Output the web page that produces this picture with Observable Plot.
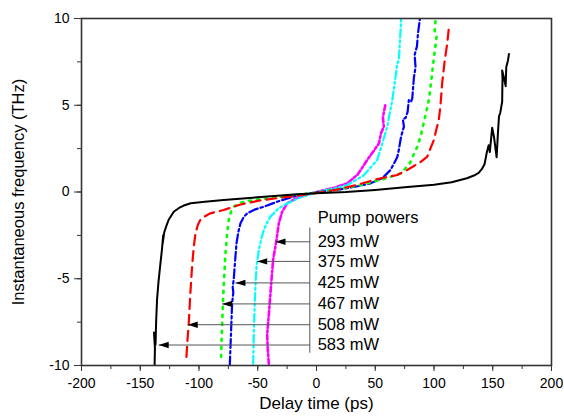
<!DOCTYPE html>
<html>
<head>
<meta charset="utf-8">
<script src="https://cdn.jsdelivr.net/npm/d3@7"></script>
<script src="https://cdn.jsdelivr.net/npm/@observablehq/plot@0.6"></script>
<style>
  html, body { margin: 0; padding: 0; background: #fff; }
  #chart svg { display: block; }
</style>
</head>
<body>
<div id="chart"></div>
<script>
// ---- data ----
const powers = ["293 mW", "375 mW", "425 mW", "467 mW", "508 mW", "583 mW"];

// delay (ps) / instantaneous frequency (THz) for each pump power
const t293 = [-40.6,-41.5,-42,-40.5,-39.2,-38,-36.9,-34.1,-32.1,-29.2,-25,-15,0,15,26.1,35,43.2,48,53.1,55,57.3,56.5,58.8];
const f293 = [-9.9,-9.0,-8.2,-7.0,-5.85,-4.8,-3.9,-2.8,-1.8,-1.14,-0.65,-0.3,0.0,0.25,0.5,1.0,1.85,2.3,2.8,3.4,3.77,4.3,5.1];

const t375 = [-53.9,-53.4,-52.8,-52,-51.1,-49.1,-47,-44.9,-42,-39.2,-33,-27.8,-15,0,15,26.1,40,51.7,56,60.2,62.5,64.5,67.3,68.7,70.1,71,72.1];
const f375 = [-9.9,-8.3,-6.8,-5.5,-4.3,-3.35,-2.7,-2.2,-1.75,-1.42,-1.0,-0.75,-0.35,0.0,0.2,0.4,0.95,1.85,2.8,3.77,4.6,5.3,6.65,7.4,7.6,8.7,10];

const t425 = [-73.8,-72.8,-71.8,-70.8,-71.3,-70.4,-69.3,-68.1,-66.5,-64.7,-62,-59,-52,-44.9,-33.5,-16.4,0,20,35,46,56,63,68.7,70,72,74.4,73.5,75.8,77.5,78.6,80.5,81.5,82.9,84.3,83.5,85.5,86.3,88];
const f425 = [-10,-8.2,-6.4,-5.8,-5.5,-5.0,-4.0,-2.96,-2.3,-1.8,-1.45,-1.23,-1.0,-0.85,-0.56,-0.2,-0.02,0.15,0.33,0.5,0.8,1.27,2.0,2.4,3.2,3.77,4.2,4.27,4.6,5.3,5.2,5.4,6.6,7.2,7.9,8.4,9.1,10];

const t467 = [-81.2,-80.5,-79.5,-78.5,-77.5,-76.2,-74.7,-72.5,-70.4,-65,-59,-50,-39,-20,0,20,37.5,55,71.5,79,85.7,88.6,92,95.6,97.5,99.3,101,102.2,100.5,101.3];
const f467 = [-9.5,-8.0,-6.2,-4.8,-3.54,-2.5,-1.6,-1.1,-0.85,-0.62,-0.52,-0.43,-0.35,-0.2,-0.04,0.18,0.4,0.7,1.07,1.6,2.6,3.2,4.2,5.3,6.3,7.4,8.3,8.96,9.3,9.9];

const t508 = [-110.7,-110,-108.7,-107.5,-105.9,-104.5,-103,-101,-98.8,-94.5,-90.3,-79,-64.7,-47.7,-30.7,-15,-2.3,15,35,51.7,68.7,77.2,82.9,89,94.3,97.5,99.9,102,104.1,105.5,107,109,111.3,112.7];
const f508 = [-9.5,-8.7,-7.56,-6.0,-4.3,-3.2,-2.38,-1.9,-1.6,-1.38,-1.23,-1.04,-0.72,-0.48,-0.33,-0.2,-0.08,0.1,0.42,0.75,0.98,1.27,1.5,1.75,2.04,2.6,3.0,3.6,4.15,5.0,6.3,7.5,8.58,9.5];

const t583 = [-137.8,-137.5,-138.3,-137,-136.5,-135.7,-134.5,-132.8,-131.5,-130.5,-131,-129.5,-128,-125.8,-121.5,-117,-113,-107,-95,-79,-60,-36,-16.5,0,25,50,75,100,115,128,134,138,141,143,145,146.5,147.5,149.5,151,153.3,154.5,155.3,156.5,158,158.3,158,159.5,161,161.5,163,163.8];
const f583 = [-10,-9.0,-8.1,-8.8,-7.5,-6.2,-5.2,-4.1,-3.3,-2.5,-3.0,-2.3,-2.0,-1.6,-1.14,-0.92,-0.78,-0.65,-0.56,-0.46,-0.36,-0.23,-0.13,-0.07,0.0,0.12,0.27,0.42,0.56,0.79,0.95,1.1,1.35,1.6,2.3,2.7,2.3,3.7,3.2,2.0,3.5,4.35,4.6,5.2,6.5,7.0,6.6,6.1,7.2,7.6,7.96];

// legend annotation: arrow tip delays and label levels (data units)
const arrowTips = [-34.9, -50.5, -69, -80.3, -109.6, -134.3];
const labelLevels = [-2.87, -4.0, -5.24, -6.45, -7.65, -8.82];
const legendTitle = "Pump powers";
const legendTitleLevel = -1.5;
const bracketX = -5.7;
const bracketTop = -2.08;
const bracketBottom = -9.29;
const labelX = 1;

const xTitle = "Delay time (ps)";
const yTitle = "Instantaneous frequency (THz)";
const xTicks = [-200, -150, -100, -50, 0, 50, 100, 150, 200];
const xMinor = d3.range(-200, 201, 25);
const yTicks = [-10, -5, 0, 5, 10];
const yMinor = d3.range(-10, 10.01, 2.5);

// ---- build tables ----
const seriesT = [t293, t375, t425, t467, t508, t583];
const seriesF = [f293, f375, f425, f467, f508, f583];
const styles = [
  {stroke: "#ff00ff", dash: "5,2.5,2,2.5", width: 2.6},
  {stroke: "#00ffff", dash: "8,3,2,3,2,3", width: 2.2},
  {stroke: "#0000ff", dash: "9,3,2.5,3", width: 2.2},
  {stroke: "#00ff00", dash: "2,6", width: 2.6},
  {stroke: "#ff0000", dash: "10,6", width: 2.2},
  {stroke: "#000000", dash: null, width: 2}
];
const lineMarks = seriesT.map((ts, i) => {
  const rows = ts.map((t, j) => ({t, f: seriesF[i][j]}));
  return Plot.line(rows, {
    x: "t", y: "f",
    stroke: styles[i].stroke,
    strokeWidth: styles[i].width,
    strokeDasharray: styles[i].dash,
    strokeLinejoin: "round",
    clip: true
  });
});

const legendRows = powers.map((p, i) => ({p, tip: arrowTips[i], y: labelLevels[i]}));

const arrowHead = {
  draw(context) {
    context.moveTo(0, 0);
    context.lineTo(10, -3.2);
    context.lineTo(10, 3.2);
    context.closePath();
  }
};

const font = "Arial, 'Liberation Sans', sans-serif";
const fmt = d => String(d);

const chart = Plot.plot({
  width: 564,
  height: 419,
  marginLeft: 81,
  marginRight: 13,
  marginTop: 18,
  marginBottom: 54,
  style: {fontFamily: font, fontSize: "14px", color: "#000", background: "#fff"},
  x: {domain: [-200, 200]},
  y: {domain: [-10, 10]},
  marks: [
    ...lineMarks,
    // annotation
    Plot.link(legendRows, {x1: "tip", x2: () => bracketX, y1: "y", y2: "y", stroke: "#555", strokeWidth: 1}),
    Plot.ruleX([bracketX], {y1: bracketTop, y2: bracketBottom, stroke: "#555", strokeWidth: 1}),
    Plot.dot(legendRows, {x: "tip", y: "y", symbol: arrowHead, fill: "#000", stroke: "none"}),
    Plot.text(legendRows, {x: () => labelX, y: "y", text: "p", textAnchor: "start", fontSize: 16.5, fill: "#000"}),
    Plot.text([legendTitle], {x: () => labelX, y: () => legendTitleLevel, text: d => d, textAnchor: "start", fontSize: 16.5, fill: "#000"}),
    // axes
    Plot.axisX({ticks: xMinor, tickSize: 4, tickFormat: () => "", stroke: "#333", label: null}),
    Plot.axisX({ticks: xTicks, tickSize: 6, tickPadding: 7, tickFormat: fmt, stroke: "#333", fill: "#000", label: null, fontSize: 14}),
    Plot.axisY({ticks: yMinor, tickSize: 4, tickFormat: () => "", stroke: "#333", label: null}),
    Plot.axisY({ticks: yTicks, tickSize: 7, tickPadding: 5, tickFormat: fmt, stroke: "#333", fill: "#000", label: null, fontSize: 14}),
    Plot.text([xTitle], {frameAnchor: "bottom", dy: 43, text: d => d, fontSize: 17, fill: "#000"}),
    Plot.text([yTitle], {frameAnchor: "left", dx: -63, rotate: -90, textAnchor: "middle", text: d => d, fontSize: 16.5, fill: "#000"}),
    Plot.frame({stroke: "#333", strokeWidth: 1.6})
  ]
});
document.getElementById("chart").appendChild(chart);
</script>
</body>
</html>
